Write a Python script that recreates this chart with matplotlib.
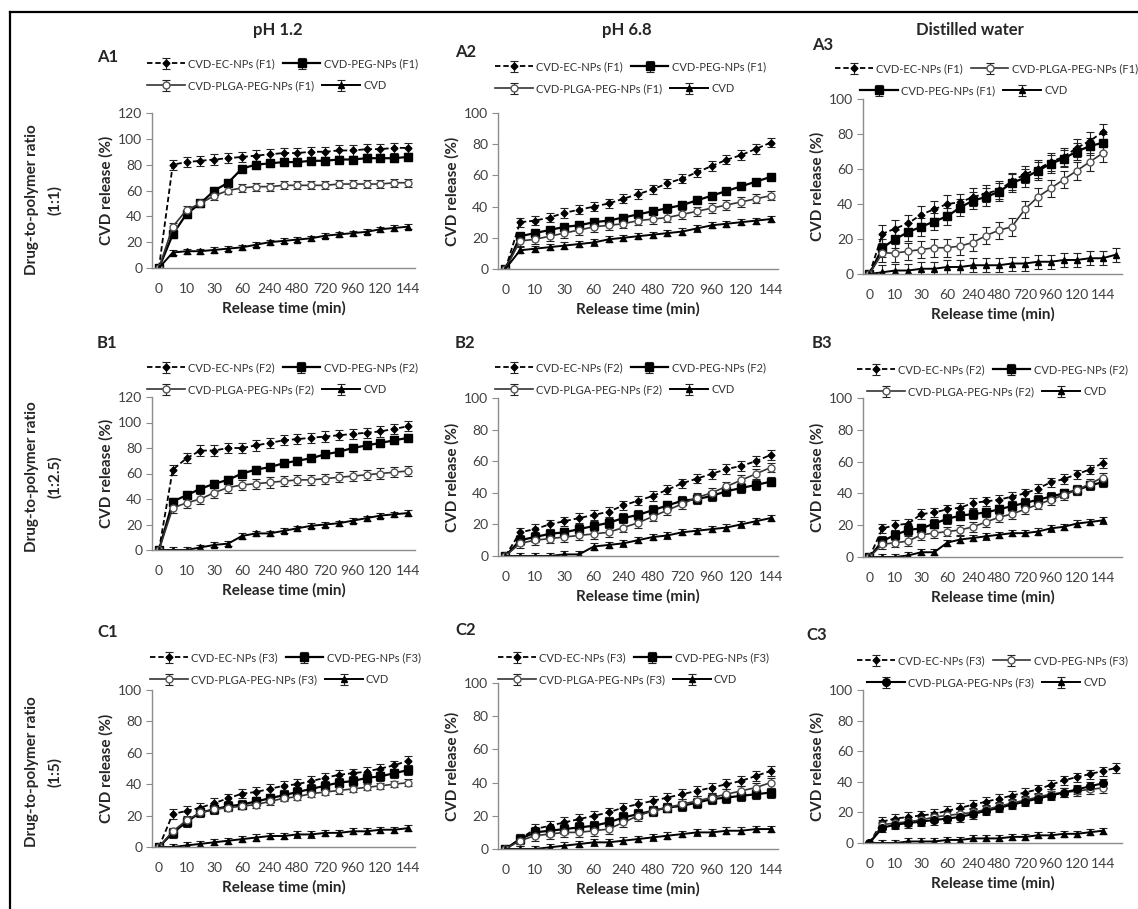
import matplotlib
matplotlib.use('Agg')
import matplotlib.pyplot as plt
from matplotlib.lines import Line2D

plt.rcParams['font.family'] = ['Lato', 'DejaVu Sans']

W, H = 1138, 909

tick_labels = ['0', '10', '30', '60', '240', '480', '720', '960', '120', '144']
column_titles = ['pH 1.2', 'pH 6.8', 'Distilled water']
ratio_labels = ['(1:1)', '(1:2.5)', '(1:5)']
panel_names = [['A1', 'A2', 'A3'], ['B1', 'B2', 'B3'], ['C1', 'C2', 'C3']]
formulas = ['F1', 'F2', 'F3']

# ---- release data (%), one value per sampling point ----
a1_ec = [0, 80, 82, 83, 84, 85, 86, 87, 88, 89, 89, 90, 90, 91, 91, 92, 92, 93, 93]
a1_peg = [0, 26, 42, 50, 60, 66, 77, 80, 81, 82, 82, 83, 83, 84, 84, 85, 85, 85, 86]
a1_plga = [0, 32, 45, 50, 56, 60, 62, 63, 63, 64, 64, 64, 64, 65, 65, 65, 65, 66, 66]
a1_cvd = [0, 12, 13, 13, 14, 15, 16, 18, 20, 21, 22, 23, 25, 26, 27, 28, 30, 31, 32]

a2_ec = [0, 30, 31, 33, 36, 38, 40, 42, 45, 48, 51, 55, 58, 62, 66, 70, 73, 77, 81]
a2_peg = [0, 21, 23, 25, 27, 28, 30, 31, 33, 35, 37, 39, 41, 44, 47, 50, 53, 56, 59]
a2_plga = [0, 18, 19, 21, 23, 25, 27, 28, 29, 31, 32, 33, 35, 37, 39, 41, 43, 45, 47]
a2_cvd = [0, 12, 13, 14, 15, 16, 17, 19, 20, 21, 22, 23, 24, 26, 28, 29, 30, 31, 32]

a3_ec = [0, 23, 26, 29, 34, 37, 40, 41, 44, 46, 48, 53, 57, 60, 64, 67, 72, 76, 81]
a3_peg = [0, 15, 20, 24, 27, 30, 33, 38, 42, 44, 47, 52, 55, 59, 63, 66, 70, 73, 75]
a3_plga = [0, 12, 12, 13, 14, 15, 15, 16, 18, 22, 25, 27, 37, 44, 49, 54, 59, 64, 69]
a3_cvd = [0, 1, 2, 2, 3, 3, 4, 4, 5, 5, 5, 6, 6, 7, 7, 8, 8, 9, 9, 11]

b1_ec = [0, 63, 72, 78, 78, 80, 80, 82, 84, 86, 87, 88, 89, 90, 91, 92, 93, 95, 97]
b1_peg = [0, 38, 43, 48, 52, 55, 60, 63, 65, 68, 70, 72, 75, 77, 80, 82, 84, 86, 88]
b1_plga = [0, 33, 37, 40, 45, 49, 51, 52, 53, 54, 55, 55, 56, 57, 58, 59, 60, 61, 62]
b1_cvd = [0, 0, 0, 2, 4, 5, 11, 13, 13, 15, 17, 19, 20, 21, 23, 25, 27, 28, 29]

b2_ec = [0, 15, 17, 20, 22, 24, 26, 28, 32, 35, 38, 42, 46, 49, 52, 55, 57, 60, 64]
b2_peg = [0, 10, 12, 14, 15, 17, 19, 21, 24, 26, 29, 32, 35, 36, 38, 41, 43, 45, 47]
b2_plga = [0, 8, 10, 11, 12, 13, 14, 15, 18, 21, 25, 29, 33, 37, 40, 44, 48, 52, 56]
b2_cvd = [0, 0, 0, 0, 1, 1, 6, 7, 8, 10, 12, 13, 15, 16, 17, 18, 20, 22, 24]

b3_ec = [0, 18, 20, 21, 27, 28, 30, 31, 34, 35, 36, 38, 40, 43, 47, 49, 52, 55, 59]
b3_peg = [0, 10, 14, 17, 18, 21, 24, 26, 27, 28, 30, 32, 34, 36, 38, 40, 42, 45, 47]
b3_plga = [0, 8, 9, 10, 14, 15, 16, 17, 19, 22, 25, 27, 30, 33, 36, 39, 42, 46, 50]
b3_cvd = [0, 0, 0, 1, 3, 3, 9, 11, 12, 13, 14, 15, 15, 16, 18, 19, 21, 22, 23]

c1_ec = [0, 21, 23, 25, 28, 31, 34, 35, 37, 39, 40, 42, 44, 46, 47, 48, 50, 52, 55]
c1_peg = [0, 9, 16, 22, 24, 26, 27, 29, 31, 33, 35, 37, 39, 41, 42, 44, 45, 47, 49]
c1_plga = [0, 10, 17, 22, 24, 25, 26, 27, 29, 31, 32, 34, 35, 36, 37, 38, 39, 40, 41]
c1_cvd = [0, 0, 1, 2, 3, 4, 5, 6, 7, 7, 8, 8, 9, 9, 10, 10, 11, 11, 12]

c2_ec = [0, 6, 12, 14, 16, 18, 20, 22, 25, 27, 29, 31, 33, 35, 37, 39, 41, 44, 47]
c2_peg = [0, 6, 10, 11, 12, 13, 14, 16, 19, 21, 23, 25, 26, 28, 30, 31, 32, 33, 34]
c2_plga = [0, 5, 8, 9, 10, 10, 11, 12, 16, 20, 23, 25, 27, 29, 31, 33, 35, 37, 40]
c2_cvd = [0, 0, 0, 1, 2, 3, 4, 4, 5, 6, 7, 8, 9, 10, 10, 11, 11, 12, 12]

c3_ec = [0, 14, 16, 17, 18, 19, 21, 23, 25, 27, 29, 31, 33, 35, 38, 41, 43, 45, 47, 49]
c3_peg = [0, 12, 13, 14, 15, 17, 18, 19, 20, 22, 24, 26, 28, 30, 32, 33, 34, 35, 36]
c3_plga = [0, 10, 12, 13, 14, 15, 16, 17, 19, 21, 23, 25, 27, 29, 31, 33, 35, 37, 39]
c3_cvd = [0, 0, 0, 1, 1, 1, 2, 2, 3, 3, 3, 4, 4, 5, 5, 6, 6, 7, 8]

# error bar half-widths per series: EC, PEG, PLGA-PEG, CVD
a1_err = [4, 3, 3, 2]
a2_err = [3, 2, 3, 2]
a3_err = [5, 5, 5, 4]
b1_err = [4, 3, 4, 2]
b2_err = [3, 3, 3, 2]
b3_err = [3, 3, 3, 2]
c1_err = [3, 3, 2, 2]
c2_err = [3, 3, 3, 2]
c3_err = [3, 3, 3, 2]

ymax_list = [[120, 100, 100], [120, 100, 100], [100, 100, 100]]

data = {
    'A1': (a1_ec, a1_peg, a1_plga, a1_cvd, a1_err),
    'A2': (a2_ec, a2_peg, a2_plga, a2_cvd, a2_err),
    'A3': (a3_ec, a3_peg, a3_plga, a3_cvd, a3_err),
    'B1': (b1_ec, b1_peg, b1_plga, b1_cvd, b1_err),
    'B2': (b2_ec, b2_peg, b2_plga, b2_cvd, b2_err),
    'B3': (b3_ec, b3_peg, b3_plga, b3_cvd, b3_err),
    'C1': (c1_ec, c1_peg, c1_plga, c1_cvd, c1_err),
    'C2': (c2_ec, c2_peg, c2_plga, c2_cvd, c2_err),
    'C3': (c3_ec, c3_peg, c3_plga, c3_cvd, c3_err),
}

# ---- layout in pixels ----
col_left = [152, 498, 863]
col_right = [415, 778, 1122]
plot_top = [[113, 113, 99], [397, 398, 398], [690, 683, 690]]
plot_bottom = [[268, 269, 274], [550, 556, 557], [847, 849, 843]]
label_pos = [[(97, 57), (455, 52), (812, 45)],
             [(97, 343), (455, 343), (812, 343)],
             [(97, 632), (455, 630), (806, 635)]]
legend_x = [[147, 495, 835], [147, 495, 857], [150, 498, 857]]
legend_row2_dx = [[0, 0, 25], [0, 0, 10], [0, 0, 10]]
legend_y = [[58, 61, 63], [362, 362, 364], [652, 652, 655]]
row_label_y = [200, 477, 772]

TXT = '#262626'
GRID = '#8c8c8c'


def fx(x):
    return x / W


def fy(y):
    return 1 - y / H


fig = plt.figure(figsize=(W / 100, H / 100), dpi=100)

# frame
fig.add_artist(Line2D([fx(10), fx(10)], [fy(12), fy(909)], color='black', lw=1.6))
fig.add_artist(Line2D([fx(10), fx(1138)], [fy(12), fy(12)], color='black', lw=1.6))

titles_x = [278, 627, 970]
for c, t in enumerate(column_titles):
    fig.text(fx(titles_x[c]), fy(30), t, ha='center', va='center',
             fontsize=12, fontweight='bold', color=TXT)

for r in range(3):
    fig.text(fx(32), fy(row_label_y[r]), 'Drug-to-polymer ratio', rotation=90,
             ha='center', va='center', fontsize=11, fontweight='bold', color=TXT)
    fig.text(fx(55), fy(row_label_y[r]), ratio_labels[r], rotation=90,
             ha='center', va='center', fontsize=11, fontweight='bold', color=TXT)

for r in range(3):
    for c in range(3):
        name = panel_names[r][c]
        ec, peg, plga, cvd, err = data[name]
        x0, x1 = col_left[c], col_right[c]
        yt, yb = plot_top[r][c], plot_bottom[r][c]
        ax = fig.add_axes([fx(x0), fy(yb), (x1 - x0) / W, (yb - yt) / H])

        f = formulas[r]
        ekw = dict(capsize=2.8, elinewidth=0.8, capthick=0.8, ecolor='#222222')
        h_ec = ax.errorbar(range(len(ec)), ec, yerr=[0] + [err[0]] * (len(ec) - 1),
                           color='black', lw=1.3, ls=(0, (3, 1.6)), marker='D', ms=3.5, **ekw)
        if c == 2 and r == 2:
            # C3: PEG drawn with open circles, PLGA-PEG with filled circles
            peg_style = dict(marker='o', ms=5, mfc='white', mec='#555555', color='#333333', lw=1.2)
            plga_style = dict(marker='o', ms=5.5, mfc='black', mec='black', color='black', lw=1.5)
        else:
            peg_style = dict(marker='s', ms=5.5, mfc='black', mec='black', color='black', lw=1.6)
            plga_style = dict(marker='o', ms=5, mfc='white', mec='#555555', color='#333333', lw=1.2)
        h_peg = ax.errorbar(range(len(peg)), peg, yerr=[0] + [err[1]] * (len(peg) - 1), **peg_style, **ekw)
        h_plga = ax.errorbar(range(len(plga)), plga, yerr=[0] + [err[2]] * (len(plga) - 1), **plga_style, **ekw)
        h_cvd = ax.errorbar(range(len(cvd)), cvd, yerr=[0] + [err[3]] * (len(cvd) - 1),
                            color='black', lw=1.4, marker='^', ms=5, **ekw)

        ymax = ymax_list[r][c]
        ax.set_ylim(0, ymax)
        ncat = 20 if c == 2 else 19
        ax.set_xlim(-0.5, ncat - 0.5)
        ax.set_yticks(range(0, ymax + 1, 20))
        ax.set_xticks(range(0, 19, 2))
        ax.set_xticklabels(tick_labels)
        for s in ['top', 'right']:
            ax.spines[s].set_visible(False)
        for s in ['left', 'bottom']:
            ax.spines[s].set_color(GRID)
            ax.spines[s].set_linewidth(1.0)
        ax.tick_params(axis='y', length=4, width=0.8, color=GRID, labelsize=10, labelcolor='#404040', pad=3)
        ax.tick_params(axis='x', length=0, labelsize=10, labelcolor='#404040', pad=11)
        ax.set_ylabel('CVD release (%)', fontsize=11, fontweight='bold', color=TXT, labelpad=3)
        ax.set_xlabel('Release time (min)', fontsize=11, fontweight='bold', color=TXT, labelpad=4)
        ax.patch.set_alpha(0)

        lab_ec = 'CVD-EC-NPs (%s)' % f
        lab_peg = 'CVD-PEG-NPs (%s)' % f
        lab_plga = 'CVD-PLGA-PEG-NPs (%s)' % f
        if name == 'A3':
            row1 = [(h_ec, lab_ec), (h_plga, lab_plga)]
            row2 = [(h_peg, lab_peg), (h_cvd, 'CVD')]
        else:
            row1 = [(h_ec, lab_ec), (h_peg, lab_peg)]
            row2 = [(h_plga, lab_plga), (h_cvd, 'CVD')]

        lkw = dict(loc='upper left', ncol=2, frameon=False, fontsize=8,
                   handlelength=3.4, handletextpad=0.3, columnspacing=0.7,
                   borderpad=0, borderaxespad=0, bbox_transform=fig.transFigure,
                   labelcolor='#333333')
        lx = legend_x[r][c]
        ly = legend_y[r][c]
        leg1 = ax.legend([h for h, _ in row1], [l for _, l in row1],
                         bbox_to_anchor=(fx(lx), fy(ly)), **lkw)
        ax.add_artist(leg1)
        ax.legend([h for h, _ in row2], [l for _, l in row2],
                  bbox_to_anchor=(fx(lx + legend_row2_dx[r][c]), fy(ly + 22)), **lkw)

        lpx, lpy = label_pos[r][c]
        fig.text(fx(lpx), fy(lpy), name, ha='left', va='center',
                 fontsize=12, fontweight='bold', color=TXT)

fig.savefig('out.png', dpi=100)
